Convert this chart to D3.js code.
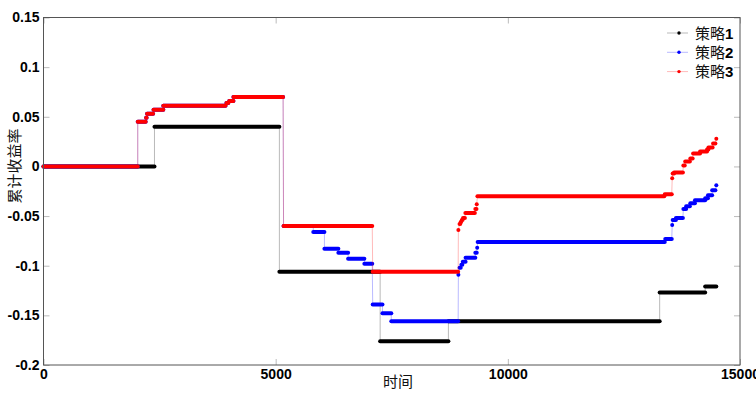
<!DOCTYPE html>
<html>
<head>
<meta charset="utf-8">
<script src="https://cdn.jsdelivr.net/npm/d3@7"></script>
<style>
  body { margin: 0; background: #fff; }
  .axis text { font-family: "Liberation Sans", Arial, sans-serif; font-size: 14px; font-weight: bold; fill: #000; }
  .axis line { stroke: #bbb; }
  .cjk { font-family: "Noto Sans CJK SC", sans-serif; font-size: 15px; fill: #111; }
  .num { font-family: "Liberation Sans", Arial, sans-serif; font-size: 15px; font-weight: bold; fill: #000; }
</style>
</head>
<body>
<div id="chart"></div>
<script>
// series names / colours
const seriesNames = ['策略1', '策略2', '策略3'];
const seriesColors = ['#000000', '#0000ff', '#ff0000'];

// axis ticks
const xTicks = [0, 5000, 10000, 15000];
const yTicks = [-0.2, -0.15, -0.1, -0.05, 0, 0.05, 0.1, 0.15];

// each step: [start time, end time, cumulative return]
const strategy1 = [
  [0, 2390, 0],
  [2390, 5080, 0.04],
  [5080, 7250, -0.106],
  [7250, 8720, -0.176],
  [8720, 13270, -0.156],
  [13270, 14250, -0.127],
  [14250, 14490, -0.121],
];

// strategy 2 and 3 are identical up to t ~ 5165
const sharedStart = [
  [0, 2030, 0],
  [2030, 2200, 0.045],
  [2210, 2220, 0.049],
  [2230, 2360, 0.053],
  [2370, 2580, 0.057],
  [2580, 3920, 0.061],
  [3940, 3980, 0.064],
  [4000, 4090, 0.066],
  [4090, 5160, 0.070],
];

const strategy2 = sharedStart.concat([
  [5170, 5810, -0.060],
  [5810, 6050, -0.066],
  [6050, 6350, -0.083],
  [6350, 6560, -0.087],
  [6560, 6910, -0.093],
  [6910, 7080, -0.098],
  [7090, 7300, -0.139],
  [7300, 7490, -0.148],
  [7490, 8930, -0.156],
  [8935, 8935, -0.109],
  [8960, 8985, -0.102],
  [9000, 9020, -0.099],
  [9030, 9090, -0.096],
  [9090, 9300, -0.092],
  [9300, 9330, -0.087],
  [9340, 9340, -0.082],
  [9350, 13380, -0.076],
  [13390, 13530, -0.073],
  [13540, 13540, -0.059],
  [13550, 13620, -0.054],
  [13620, 13770, -0.052],
  [13780, 13840, -0.043],
  [13840, 13920, -0.040],
  [13930, 14030, -0.037],
  [14030, 14250, -0.034],
  [14250, 14310, -0.032],
  [14310, 14400, -0.029],
  [14400, 14470, -0.024],
  [14490, 14490, -0.019],
]);

const strategy3 = sharedStart.concat([
  [5170, 7080, -0.060],
  [7090, 8930, -0.106],
  [8935, 8935, -0.064],
  [8960, 8975, -0.058],
  [8985, 8995, -0.056],
  [9010, 9025, -0.054],
  [9035, 9075, -0.052],
  [9085, 9290, -0.047],
  [9300, 9325, -0.043],
  [9330, 9330, -0.038],
  [9345, 13370, -0.030],
  [13380, 13530, -0.028],
  [13540, 13540, -0.012],
  [13550, 13580, -0.007],
  [13580, 13770, -0.006],
  [13780, 13810, 0.001],
  [13820, 13920, 0.005],
  [13930, 13980, 0.008],
  [13990, 14140, 0.013],
  [14140, 14290, 0.015],
  [14290, 14320, 0.017],
  [14320, 14410, 0.019],
  [14420, 14470, 0.023],
  [14490, 14490, 0.028],
]);

class StepChart {
  constructor(_config, _data) {
    this.config = {
      parentElement: _config.parentElement,
      containerWidth: 756,
      containerHeight: 393,
      margin: {
        top: 17.5, right: 16, bottom: 28, left: 43.5,
      },
    };
    this.data = _data;
    this.initVis();
  }

  initVis() {
    const vis = this;

    vis.width = vis.config.containerWidth - vis.config.margin.left - vis.config.margin.right;
    vis.height = vis.config.containerHeight - vis.config.margin.top - vis.config.margin.bottom;

    vis.svg = d3.select(vis.config.parentElement).append('svg')
      .attr('width', vis.config.containerWidth)
      .attr('height', vis.config.containerHeight);

    vis.chart = vis.svg.append('g')
      .attr('transform', `translate(${vis.config.margin.left},${vis.config.margin.top})`);

    vis.xScale = d3.scaleLinear().domain([0, 15000]).range([0, vis.width]);
    vis.yScale = d3.scaleLinear().domain([-0.2, 0.15]).range([vis.height, 0]);

    // MATLAB style: ticks inside, mirrored on top / right
    vis.xAxis = d3.axisBottom(vis.xScale).tickValues(xTicks)
      .tickSizeInner(-6).tickSizeOuter(0).tickPadding(4)
      .tickFormat((d) => d);
    vis.yAxis = d3.axisLeft(vis.yScale).tickValues(yTicks)
      .tickSizeInner(-6).tickSizeOuter(0).tickPadding(4)
      .tickFormat((d) => String(+d.toFixed(2)));
    vis.xAxisTop = d3.axisTop(vis.xScale).tickValues(xTicks)
      .tickSizeInner(-6).tickSizeOuter(0).tickFormat('');
    vis.yAxisRight = d3.axisRight(vis.yScale).tickValues(yTicks)
      .tickSizeInner(-6).tickSizeOuter(0).tickFormat('');

    vis.xAxisG = vis.chart.append('g').attr('class', 'axis x-axis')
      .attr('transform', `translate(0,${vis.height})`);
    vis.yAxisG = vis.chart.append('g').attr('class', 'axis y-axis');
    vis.chart.append('g').attr('class', 'axis').call(vis.xAxisTop)
      .call((g) => g.select('.domain').remove());
    vis.chart.append('g').attr('class', 'axis')
      .attr('transform', `translate(${vis.width},0)`)
      .call(vis.yAxisRight)
      .call((g) => g.select('.domain').remove());

    vis.seriesG = vis.chart.append('g');

    vis.chart.append('rect')
      .attr('width', vis.width)
      .attr('height', vis.height)
      .attr('fill', 'none')
      .attr('stroke', '#555');

    // axis titles
    vis.svg.append('text')
      .attr('class', 'cjk')
      .attr('text-anchor', 'middle')
      .attr('dominant-baseline', 'central')
      .attr('transform', 'translate(13,166) rotate(-90)')
      .text('累计收益率');
    vis.svg.append('text')
      .attr('class', 'cjk')
      .attr('text-anchor', 'middle')
      .attr('dominant-baseline', 'central')
      .attr('x', 398)
      .attr('y', 380)
      .text('时间');

    vis.updateVis();
  }

  updateVis() {
    const vis = this;
    vis.line = d3.line()
      .x((d) => vis.xScale(d[0]))
      .y((d) => vis.yScale(d[1]));
    // connecting line passes through both ends of each step
    vis.linePoints = (steps) => steps.flatMap((s) => [[s[0], s[2]], [s[1], s[2]]]);
    vis.renderVis();
  }

  renderVis() {
    const vis = this;

    vis.xAxisG.call(vis.xAxis).call((g) => g.select('.domain').remove());
    vis.yAxisG.call(vis.yAxis).call((g) => g.select('.domain').remove());

    const series = vis.seriesG.selectAll('.series')
      .data(vis.data)
      .join('g')
      .attr('class', 'series');

    series.append('path')
      .attr('d', (d) => vis.line(vis.linePoints(d.steps)))
      .attr('fill', 'none')
      .attr('stroke', (d) => d.color)
      .attr('stroke-opacity', 0.35)
      .attr('stroke-width', 0.8);

    // dense dot markers drawn as thick round-capped runs
    series.selectAll('.run')
      .data((d) => d.steps.map((s) => ({ s, color: d.color })))
      .join('line')
      .attr('class', 'run')
      .attr('x1', (d) => vis.xScale(d.s[0]))
      .attr('x2', (d) => vis.xScale(d.s[1]))
      .attr('y1', (d) => vis.yScale(d.s[2]))
      .attr('y2', (d) => vis.yScale(d.s[2]))
      .attr('stroke', (d) => d.color)
      .attr('stroke-width', 4)
      .attr('stroke-linecap', 'round');

    // legend
    const legend = vis.svg.selectAll('.legend')
      .data(vis.data)
      .join('g')
      .attr('class', 'legend')
      .attr('transform', (d, i) => `translate(0,${33 + i * 19.3})`);
    legend.append('line')
      .attr('x1', 667).attr('x2', 688)
      .attr('stroke', (d) => d.color)
      .attr('stroke-opacity', 0.35)
      .attr('stroke-width', 0.8);
    legend.append('circle')
      .attr('cx', 679).attr('r', 1.7)
      .attr('fill', (d) => d.color);
    const label = legend.append('text')
      .attr('x', 695)
      .attr('dy', '0.36em');
    label.append('tspan').attr('class', 'cjk').text((d) => d.name.slice(0, 2));
    label.append('tspan').attr('class', 'num').text((d) => d.name.slice(2));
  }
}

const chartData = [strategy1, strategy2, strategy3].map((steps, i) => ({
  name: seriesNames[i], color: seriesColors[i], steps,
}));

new StepChart({ parentElement: '#chart' }, chartData);
</script>
</body>
</html>
